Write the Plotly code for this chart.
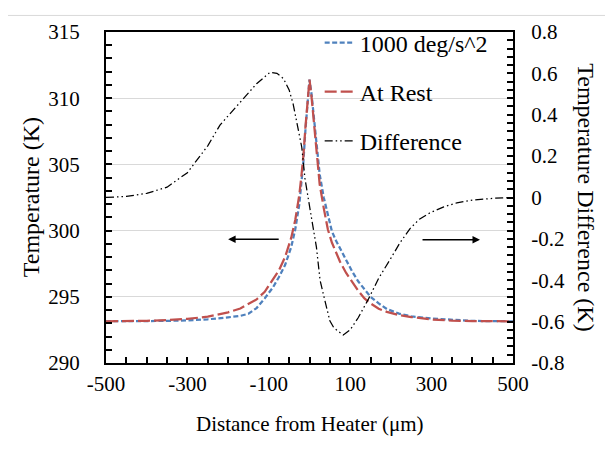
import plotly.graph_objects as go

# ---- data ----
x_temp = [-500, -450, -400, -350, -300, -250, -200, -170, -150, -130, -110, -90, -75, -60,
          -45, -35, -25, -20, -15, -10, -5, 0, 5, 10, 15, 20, 25, 35, 45, 55, 65, 75, 90,
          105, 120, 135, 150, 170, 190, 220, 250, 300, 350, 400, 450, 500]
t_1000 = [293.15, 293.15, 293.16, 293.18, 293.22, 293.30, 293.45, 293.56, 293.72, 294.15,
          294.88, 295.70, 296.50, 297.40, 298.75, 300.10, 302.00, 303.40, 305.20, 307.60,
          309.70, 311.40, 310.30, 308.70, 307.10, 305.50, 304.25, 302.50, 301.10, 299.95,
          299.25, 298.65, 297.70, 296.90, 296.15, 295.60, 295.00, 294.50, 294.08, 293.73,
          293.52, 293.36, 293.25, 293.18, 293.16, 293.15]
t_rest = [293.15, 293.16, 293.19, 293.24, 293.33, 293.50, 293.83, 294.12, 294.45, 294.80,
          295.38, 296.30, 297.00, 298.00, 299.45, 300.80, 302.70, 304.10, 305.66, 307.80,
          309.80, 311.40, 310.10, 308.50, 306.80, 305.00, 303.50, 301.70, 300.10, 299.10,
          298.35, 297.65, 296.80, 296.10, 295.45, 294.88, 294.50, 294.10, 293.86, 293.62,
          293.47, 293.29, 293.20, 293.17, 293.15, 293.15]

x_diff = [-500, -450, -400, -350, -300, -285, -250, -220, -170, -130, -97, -80, -64, -50,
          -40, -32, -19, -11, -4, 5, 17, 26, 38, 50, 60, 72, 83, 100, 120, 145, 170, 198,
          222, 247, 270, 296, 330, 362, 400, 450, 500]
diff = [0.0, 0.005, 0.02, 0.05, 0.12, 0.16, 0.25, 0.35, 0.46, 0.55, 0.605, 0.60, 0.575,
        0.52, 0.45, 0.37, 0.243, 0.09, 0.0, -0.10, -0.24, -0.40, -0.50, -0.596, -0.63,
        -0.65, -0.665, -0.64, -0.58, -0.49, -0.39, -0.30, -0.22, -0.15, -0.105, -0.074,
        -0.045, -0.026, -0.013, -0.004, 0.0]

x_tickvals = [-500, -300, -100, 100, 300, 500]
x_ticktext = ["-500", "-300", "-100", "100", "300", "500"]
y_tickvals = [290, 295, 300, 305, 310, 315]
y_ticktext = ["290", "295", "300", "305", "310", "315"]
y2_tickvals = [-0.8, -0.6, -0.4, -0.2, 0, 0.2, 0.4, 0.6, 0.8]
y2_ticktext = ["-0.8", "-0.6", "-0.4", "-0.2", "0", "0.2", "0.4", "0.6", "0.8"]

FONT = "Liberation Serif, Times New Roman, serif"

fig = go.Figure()
fig.add_trace(go.Scatter(x=x_temp, y=t_1000, mode="lines", name="1000 deg/s^2",
                         legendgroup="a",
                         line=dict(color="#4f81bd", width=2.25, dash="5px,2.5px")))
fig.add_trace(go.Scatter(x=x_temp, y=t_rest, mode="lines", name="At Rest",
                         legendgroup="b",
                         line=dict(color="#c0504d", width=2.25, dash="12px,4px")))
fig.add_trace(go.Scatter(x=x_diff, y=diff, mode="lines", name="Difference",
                         legendgroup="c", yaxis="y2",
                         line=dict(color="black", width=1.25,
                                   dash="8px,3px,1.5px,3px,1.5px,3px")))

tickcommon = dict(ticks="inside", ticklen=6, tickwidth=1.5, tickcolor="black",
                  showline=True, linecolor="black", linewidth=2, zeroline=False,
                  tickfont=dict(family=FONT, size=21, color="black"))

fig.update_layout(
    width=605, height=441,
    margin=dict(l=98, r=100, t=18, b=86),
    paper_bgcolor="white", plot_bgcolor="white",
    font=dict(family=FONT, color="black"),
    showlegend=True,
    legend=dict(x=0.525, y=1.035, xanchor="left", yanchor="top",
                bgcolor="rgba(0,0,0,0)", traceorder="grouped", tracegroupgap=15,
                font=dict(family=FONT, size=24, color="black")),
    xaxis=dict(range=[-500, 500], tickmode="array", tickvals=x_tickvals,
               ticktext=x_ticktext, mirror=True, showgrid=False,
               ticklabelstandoff=1,
               minor=dict(tick0=-500, dtick=50, ticks="inside", ticklen=6,
                          tickwidth=1.5, tickcolor="black", showgrid=False),
               **tickcommon),
    yaxis=dict(range=[290, 315], tickmode="array", tickvals=y_tickvals,
               ticktext=y_ticktext, showgrid=True, gridcolor="#d9d9d9", gridwidth=1.2,
               ticklabelstandoff=20,
               minor=dict(tick0=290, dtick=1, ticks="inside", ticklen=6,
                          tickwidth=1.5, tickcolor="black", showgrid=False),
               **tickcommon),
    yaxis2=dict(range=[-0.8, 0.8], overlaying="y", side="right", tickmode="array",
                tickvals=y2_tickvals, ticktext=y2_ticktext, showgrid=False,
                ticklabelstandoff=12,
                minor=dict(tick0=-0.8, dtick=0.04, ticks="inside", ticklen=6,
                           tickwidth=1.5, tickcolor="black", showgrid=False),
                **tickcommon),
)

# axis titles
fig.add_annotation(text="Distance from Heater (\u03bcm)", xref="paper", yref="paper",
                   x=0.5, y=-0.184, xanchor="center", yanchor="middle", showarrow=False,
                   font=dict(family=FONT, size=21, color="black"))
fig.add_annotation(text="Temperature (K)", xref="paper", yref="paper",
                   x=-0.185, y=0.5, xanchor="center", yanchor="middle", showarrow=False,
                   textangle=-90, font=dict(family=FONT, size=24, color="black"))
fig.add_annotation(text="Temperature Difference (K)", xref="paper", yref="paper",
                   x=1.18, y=0.5, xanchor="center", yanchor="middle", showarrow=False,
                   textangle=90, font=dict(family=FONT, size=24, color="black"))

# axis-indicating arrows
fig.add_annotation(x=-200, y=299.35, ax=-72, ay=299.35, xref="x", yref="y",
                   axref="x", ayref="y", text="", showarrow=True, arrowhead=2,
                   arrowsize=1, arrowwidth=1.5, arrowcolor="black")
fig.add_annotation(x=419, y=299.3, ax=274, ay=299.3, xref="x", yref="y",
                   axref="x", ayref="y", text="", showarrow=True, arrowhead=2,
                   arrowsize=1, arrowwidth=1.5, arrowcolor="black")

# light outer chart border (left and top edges)
fig.add_shape(type="line", xref="paper", yref="paper", x0=-0.245, x1=-0.245,
              y0=-0.3, y1=1.05, line=dict(color="#d9d9d9", width=1), layer="below")
fig.add_shape(type="line", xref="paper", yref="paper", x0=-0.245, x1=1.3,
              y0=1.05, y1=1.05, line=dict(color="#d9d9d9", width=1), layer="below")

fig.write_html("out.html")
